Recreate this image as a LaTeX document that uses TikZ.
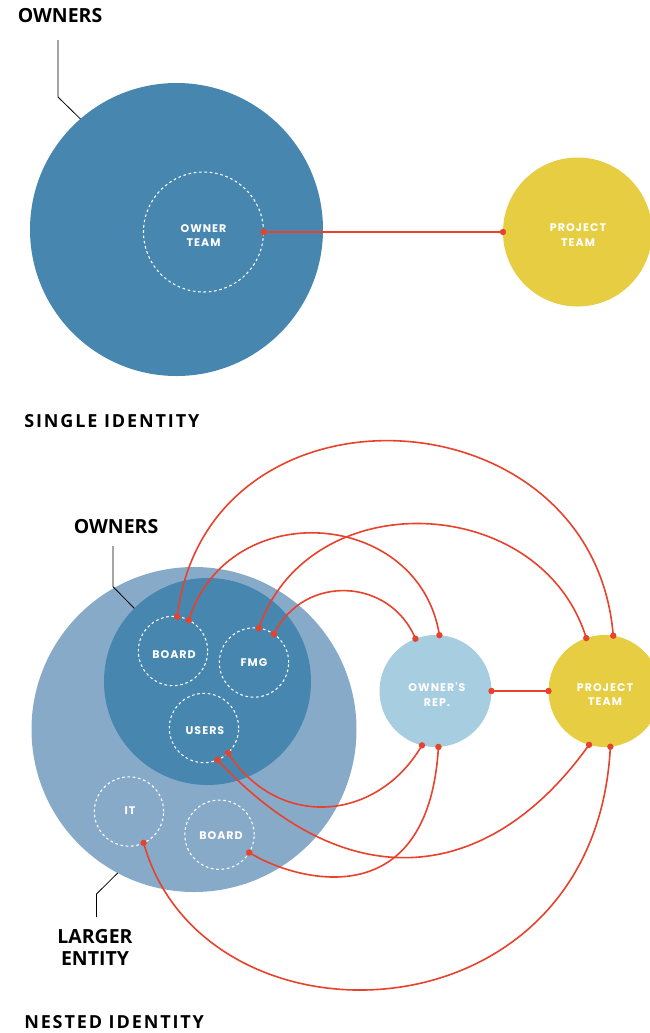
\documentclass[tikz,border=0pt]{standalone}
\usepackage{fontspec}
\setmainfont{Open Sans}
\newfontfamily\capsfont[LetterSpace=10.5]{Open Sans}
\newfontfamily\tagfont[LetterSpace=9]{Poppins}
\definecolor{ownblue}{RGB}{70,134,175}
\definecolor{entblue}{RGB}{136,170,201}
\definecolor{repblue}{RGB}{166,205,224}
\definecolor{teamyellow}{RGB}{230,205,66}
\definecolor{linkred}{RGB}{232,65,44}

\begin{document}
\begin{tikzpicture}[x=0.75pt,y=0.75pt,yscale=-1,xscale=1,
	blob/.style={circle,inner sep=0pt,outer sep=0pt},
	group/.style={blob,draw=white,dash pattern=on 2pt off 2pt,line width=0.8pt,minimum size=52pt},
	tag/.style={inner sep=0pt,text=white,align=center,font=\tagfont\bfseries\fontsize{8.3}{11}\selectfont},
	heading/.style={inner sep=0pt,align=center,font=\bfseries\fontsize{14.6}{16.5}\selectfont},
	title/.style={inner sep=0pt,anchor=west,font=\capsfont\bfseries\fontsize{13.5}{16}\selectfont},
	link/.style={draw=linkred,line width=1.2pt},
	leader/.style={draw=black,line width=0.6pt}]
	\useasboundingbox (0,0) rectangle (650,1033);
	\node[blob,fill=ownblue,minimum size=219.75pt] (owners) at (176.5,229.5) {};
	\node[group,minimum size=90pt] (ownteam) at (203.5,232) {};
	\node[blob,fill=teamyellow,minimum size=111.75pt] (team) at (577.5,232) {};
	\node[tag] (ownteamtxt) at (203.5,235.5) {OWNER\\TEAM};
	\node[tag] (teamtxt) at (578,235) {PROJECT\\TEAM};
	\draw[link] (ownteam.east) -- (team.west);
	\fill[linkred] (ownteam.east) circle (3.2) (team.west) circle (3.2);
	\node[heading] (ownlbl) at (60,16) {OWNERS};
	\draw[leader] (58,40) -- (58,97) -- (owners.131);
	\node[title] (single) at (24,420.7) {SINGLE IDENTITY};
	\node[blob,fill=entblue,minimum size=243.75pt] (entity) at (194,729.5) {};
	\node[blob,fill=ownblue,minimum size=155.25pt] (owners2) at (207.5,681.5) {};
	\node[group] (board) at (173,651) {};
	\node[group] (fmg) at (254,662.5) {};
	\node[group] (users) at (204,728) {};
	\node[group] (it) at (129,811.5) {};
	\node[group] (board2) at (219.5,834.7) {};
	\node[blob,fill=repblue,minimum size=84pt] (rep) at (435.5,691) {};
	\node[blob,fill=teamyellow,minimum size=84pt] (team2) at (604.5,691) {};
	\node[tag] (boardtxt) at (174,655) {BOARD};
	\node[tag] (fmgtxt) at (254,663) {FMG};
	\node[tag] (userstxt) at (205,731) {USERS};
	\node[tag] (ittxt) at (130,811) {IT};
	\node[tag] (board2txt) at (221,836) {BOARD};
	\node[tag] (reptxt) at (437,694.5) {OWNER'S\\REP.};
	\node[tag] (team2txt) at (605,694.5) {PROJECT\\TEAM};
	\draw[link] (board.83) .. controls +(30,-247) and +(-20,-247) .. (team2.81);
	\draw[link] (board.63) .. controls +(40,-126) and +(-20,-126) .. (rep.86);
	\draw[link] (fmg.82) .. controls +(50,-146) and +(-45,-146) .. (team2.109);
	\draw[link] (fmg.55) .. controls +(30,-61) and +(-25,-61) .. (rep.111);
	\draw[link] (users.-46) .. controls +(50,77) and +(-45,77) .. (rep.-104);
	\draw[link] (users.-67) .. controls +(130,140) and +(-100,140) .. (team2.-106);
	\draw[link] (board2.-31) .. controls +(45,28) and +(-10,172) .. (rep.-87);
	\draw[link] (it.-65) .. controls +(60,215) and +(-15,300) .. (team2.-84);
	\draw[link] (rep.east) -- (team2.west);
	\fill[linkred] (board.83) circle (3.2) (board.63) circle (3.2) (fmg.82) circle (3.2) (fmg.55) circle (3.2) (users.-46) circle (3.2) (users.-67) circle (3.2) (board2.-31) circle (3.2) (it.-65) circle (3.2);
	\fill[linkred] (rep.86) circle (3.2) (rep.111) circle (3.2) (rep.-104) circle (3.2) (rep.-87) circle (3.2) (rep.east) circle (3.2);
	\fill[linkred] (team2.81) circle (3.2) (team2.109) circle (3.2) (team2.-106) circle (3.2) (team2.-84) circle (3.2) (team2.west) circle (3.2);
	\node[heading] (ownlbl2) at (116,527) {OWNERS};
	\draw[leader] (113,546) -- (113,586.7) -- (owners2.135);
	\node[heading] (entlbl) at (95,947) {LARGER\\ENTITY};
	\draw[leader] (entity.242) -- (96.5,894) -- (96.5,917);
	\node[title] (nested) at (24,1022) {NESTED IDENTITY};
\end{tikzpicture}
\end{document}
